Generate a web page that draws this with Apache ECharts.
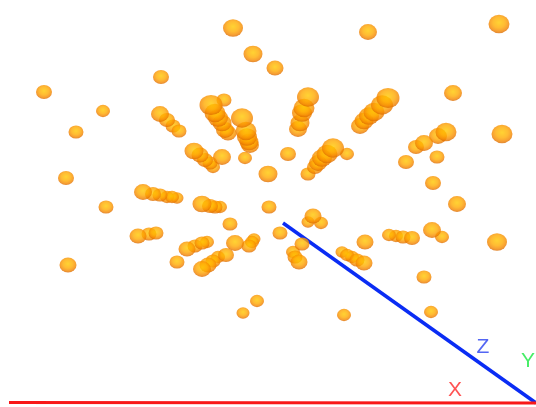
<!DOCTYPE html>
<html>
<head>
<meta charset="utf-8">
<style>
html, body { margin: 0; padding: 0; background: #fff; }
#main { width: 536px; height: 407px; filter: blur(0.4px); }
</style>
<script src="https://cdn.jsdelivr.net/npm/echarts@6/dist/echarts.min.js"></script>
</head>
<body>
<div id="main"></div>
<script>
// in screen-like units (y grows downward)
var sphereX = [233,368,499,253,275,161,44,103,76,453,502,66,106,68,457,497,433,424,431,344,243,257,
  160,167,173,179, 211,224,228,225,222,218,215, 242,246,247,249,250, 222,245, 194,200,205,210,213,
  308,304,302,300,298, 388,382,374,369,364,360, 446,438,424,416,406,437, 288,308,347, 333,327,322,318,315, 268,
  143,153,160,167,172,177, 202,210,215,220, 230,269, 138,149,156, 187,195,202,207, 177, 202,208,213,218, 226,235,249,252,254,
  280,313,321,308, 302,293,295,299, 365, 364,357,352,347,342, 412,403,396,389, 432,442];
var sphereY = [28,32,24,54,68,77,92,111,132,93,134,178,207,265,204,242,183,277,312,315,313,301,
  114,120,126,131, 105,100,133,130,123,118,113, 118,131,137,142,145, 157,158, 151,155,160,163,167,
  97,108,113,123,129, 98,105,112,116,121,126, 132,136,143,147,162,157, 154,174,154, 148,154,158,163,167, 174,
  192,194,195,197,197,198, 204,206,207,207, 224,207, 236,234,233, 249,246,243,242, 262, 269,265,261,257, 255,243,246,242,239,
  233,216,223,222, 244,252,257,262, 242, 263,260,257,255,252, 238,237,236,235, 230,237];
var sphereSize = [20,18,21,19,17,16,16,14,15,18,21,16,15,17,18,20,16,15,14,14,13,14,
  18,16,15,15, 23,15,17,18,19,20,21, 22,21,20,19,18, 18,14, 19,17,16,15,14,
  22,21,20,19,18, 23,22,21,20,19,18, 21,18,18,16,16,15, 16,15,14, 22,21,20,18,16, 19,
  18,16,15,14,14,13, 19,16,15,14, 15,15, 17,15,15, 17,15,15,14, 15, 18,17,15,14, 16,18,15,14,13,
  15,17,14,13, 15,14,15,17, 17, 17,15,14,14,13, 16,15,14,14, 18,14];

var axisNames = ['X', 'Y', 'Z'];
var axisColors = ['#ff2828', '#18e840', '#2840f0'];
var labelX = [455, 528, 483];
var labelY = [390, 361, 347];
var xLine = [[9, 402.5], [536, 403]];
var zLine = [[283, 223], [536, 403]];

var sphereColor = new echarts.graphic.RadialGradient(0.5, 0.42, 0.58, [
  {offset: 0, color: '#ffc800'},
  {offset: 0.5, color: '#ffaa00'},
  {offset: 0.8, color: '#f58800'},
  {offset: 1, color: '#da6a00'}
]);

// small spheres are farther away, draw them first
var spheres = sphereX.map(function (x, i) {
  return [x, sphereY[i], sphereSize[i]];
}).sort(function (a, b) { return a[2] - b[2]; });

var option = {
  animation: false,
  backgroundColor: '#fff',
  grid: {left: 0, right: 0, top: 0, bottom: 0},
  xAxis: {type: 'value', min: 0, max: 536, show: false},
  yAxis: {type: 'value', min: 0, max: 407, inverse: true, show: false},
  series: [
    {
      type: 'line',
      data: zLine,
      symbol: 'none',
      z: 1,
      lineStyle: {color: '#0a2cf4', width: 3.5}
    },
    {
      type: 'line',
      data: xLine,
      symbol: 'none',
      z: 1,
      lineStyle: {color: '#f81818', width: 3}
    },
    {
      type: 'scatter',
      data: spheres,
      z: 2,
      symbol: 'circle',
      symbolSize: function (v) { return [v[2], v[2] * 0.88]; },
      itemStyle: {color: sphereColor}
    },
    {
      type: 'scatter',
      z: 3,
      symbolSize: 0,
      data: axisNames.map(function (n, i) {
        return {
          value: [labelX[i], labelY[i]],
          label: {
            show: true,
            position: 'inside',
            formatter: n,
            color: axisColors[i],
            fontSize: 21,
            fontFamily: 'Liberation Sans'
          }
        };
      })
    }
  ]
};

var myChart = echarts.init(document.getElementById('main'));
myChart.setOption(option);
</script>
</body>
</html>
